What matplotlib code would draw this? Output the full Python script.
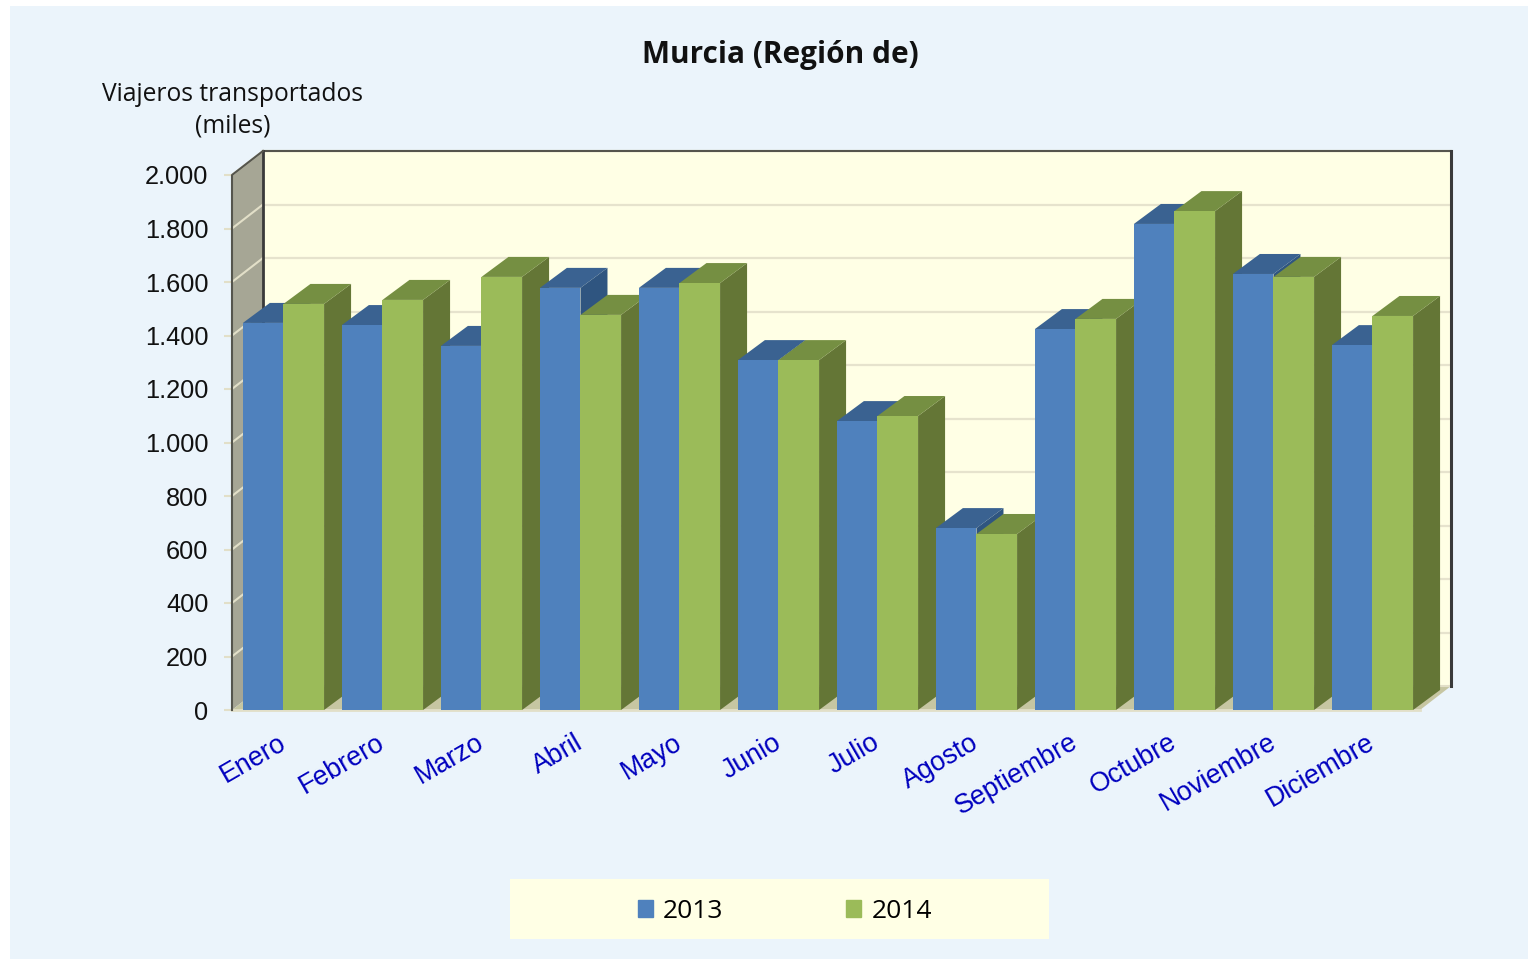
import matplotlib
matplotlib.use("Agg")
import matplotlib.pyplot as plt
from matplotlib.patches import Patch, Rectangle

months = ["Enero", "Febrero", "Marzo", "Abril", "Mayo", "Junio", "Julio",
          "Agosto", "Septiembre", "Octubre", "Noviembre", "Diciembre"]
v2013 = [1447, 1439, 1361, 1578, 1578, 1308, 1080, 680, 1424, 1817, 1630, 1364]
v2014 = [1518, 1533, 1619, 1477, 1596, 1308, 1099, 658, 1462, 1865, 1619, 1473]
yticks = [0, 200, 400, 600, 800, 1000, 1200, 1400, 1600, 1800, 2000]
ylabels = ["0", "200", "400", "600", "800", "1.000", "1.200", "1.400", "1.600", "1.800", "2.000"]

W, H = 1528, 959
fig = plt.figure(figsize=(W / 100, H / 100), dpi=100, facecolor="white")


def fx(p):
    return p / W


def fy(p):
    return 1 - p / H


# background panel and legend box
fig.patches.append(Rectangle((fx(10), 0), 1 - fx(10), fy(6), transform=fig.transFigure,
                             facecolor="#EBF4FB", edgecolor="none", zorder=-2))
fig.patches.append(Rectangle((fx(510), fy(939)), fx(539), 60 / H, transform=fig.transFigure,
                             facecolor="#FFFFE5", edgecolor="none", zorder=-1))

ax = fig.add_axes([fx(232), fy(710), fx(1188), 535 / H])
ax.patch.set_visible(False)
ax.set_xlim(0, 12)
ax.set_ylim(0, 2000)
for s in ax.spines.values():
    s.set_visible(False)

# pixel sizes of the fake 3d depth in data units
px_x = 12 / 1188
px_y = 2000 / 535
wall_dx, wall_dy = 31 * px_x, 24 * px_y
bar_dx, bar_dy = 27 * px_x, 20 * px_y

# walls and floor
ax.fill([wall_dx, 12 + wall_dx, 12 + wall_dx, wall_dx],
        [wall_dy, wall_dy, 2000 + wall_dy, 2000 + wall_dy],
        color="#FFFFE5", lw=0, clip_on=False, zorder=1)
ax.fill([0, wall_dx, wall_dx, 0], [0, wall_dy, 2000 + wall_dy, 2000],
        color="#A6A695", lw=0, clip_on=False, zorder=1)
ax.fill([0, 12, 12 + wall_dx, wall_dx], [0, 0, wall_dy, wall_dy],
        color="#C6C6A2", lw=0, clip_on=False, zorder=1)

for t in yticks[1:]:
    ax.plot([wall_dx, 12 + wall_dx], [t + wall_dy] * 2, color="#E6E3CD", lw=1.6,
            clip_on=False, zorder=2)
    ax.plot([0, wall_dx], [t, t + wall_dy], color="#E2DFC8", lw=1.5,
            clip_on=False, zorder=2)
ax.plot([0, 12], [0, 0], color="#E2DFC8", lw=2, clip_on=False, zorder=2)

# frame lines
frame = "#3A3A3A"
ax.plot([wall_dx, 12 + wall_dx], [2000 + wall_dy] * 2, color="#55554D", lw=1.5,
        clip_on=False, zorder=3)
ax.plot([wall_dx, wall_dx], [wall_dy, 2000 + wall_dy], color=frame, lw=2,
        clip_on=False, zorder=3)
ax.plot([12 + wall_dx, 12 + wall_dx], [wall_dy, 2000 + wall_dy], color=frame, lw=2.2,
        clip_on=False, zorder=3)
ax.plot([wall_dx, 12 + wall_dx], [wall_dy, wall_dy], color="#E2DFC8", lw=1.5,
        clip_on=False, zorder=2)
ax.plot([0, 0, wall_dx], [0, 2000, 2000 + wall_dy], color="#55554D", lw=1.5,
        clip_on=False, zorder=3)


def draw_bar(x, w, v, front, top, side, z):
    ax.fill([x + w, x + w + bar_dx, x + w + bar_dx, x + w],
            [0, bar_dy, v + bar_dy, v], color=side, lw=0, clip_on=False, zorder=z)
    ax.fill([x, x + bar_dx, x + w + bar_dx, x + w],
            [v, v + bar_dy, v + bar_dy, v], color=top, lw=0, clip_on=False, zorder=z)
    ax.bar(x, v, width=w, align="edge", color=front, lw=0, zorder=z)


# painted left to right so the next bar covers the side of the previous one
w = 0.41
z = 4
for i in range(len(months)):
    draw_bar(i + 0.11, w, v2013[i], "#4F81BD", "#3A6291", "#2F5580", z)
    draw_bar(i + 0.11 + w, w, v2014[i], "#9BBB59", "#758F42", "#647636", z + 1)
    z += 2

ax.set_yticks(yticks)
ax.set_yticklabels(ylabels, fontsize=18.3, family="Liberation Sans", color="#111111")
ax.tick_params(axis="y", length=6, width=1.5, color="#E2DFC8", pad=11)
ax.set_xticks([i + 0.46 for i in range(len(months))])
ax.set_xticklabels(months, fontsize=19.3, family="Liberation Sans", color="#0000BE",
                   rotation=30, ha="right", va="top", rotation_mode="anchor")
ax.tick_params(axis="x", length=0, pad=14)

fig.text(fx(780), fy(55), "Murcia (Región de)", ha="center", va="center",
         fontsize=21.4, fontweight="bold", family="Open Sans", color="#111111")
fig.text(fx(233), fy(110), "Viajeros transportados\n(miles)", ha="center", va="center",
         fontsize=17.7, family="Open Sans", color="#111111", linespacing=1.35)

fig.legend(handles=[Patch(color="#4F81BD", label="2013"), Patch(color="#9BBB59", label="2014")],
           loc="center", bbox_to_anchor=(fx(785), fy(911)), ncol=2, frameon=False,
           prop={"family": "Open Sans", "size": 19}, handlelength=0.56, handleheight=0.6,
           handletextpad=0.4, columnspacing=4.65)

fig.savefig("out.png", dpi=100, facecolor=fig.get_facecolor())
